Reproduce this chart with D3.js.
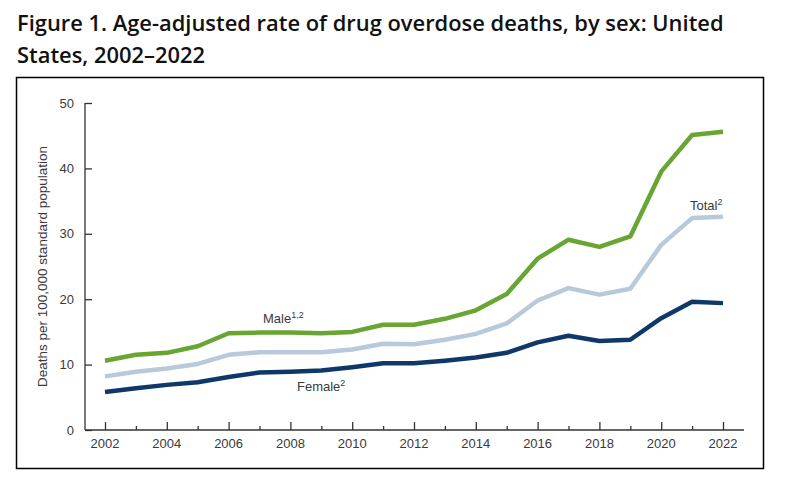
<!DOCTYPE html>
<html>
<head>
<meta charset="utf-8">
<script src="https://cdn.jsdelivr.net/npm/d3@7"></script>
<style>
body{margin:0;background:#fff;}
svg{display:block;}
</style>
</head>
<body>
<svg id="chart" width="795" height="478"></svg>
<script>
const years = [2002,2003,2004,2005,2006,2007,2008,2009,2010,2011,2012,2013,2014,2015,2016,2017,2018,2019,2020,2021,2022];
const male   = [10.6,11.5,11.8,12.8,14.8,14.9,14.9,14.8,15.0,16.1,16.1,17.0,18.3,20.8,26.2,29.1,28.0,29.6,39.5,45.1,45.6];
const total  = [8.2,8.9,9.4,10.1,11.5,11.9,11.9,11.9,12.3,13.2,13.1,13.8,14.7,16.3,19.8,21.7,20.7,21.6,28.3,32.4,32.6];
const female = [5.8,6.4,6.9,7.3,8.1,8.8,8.9,9.1,9.6,10.2,10.2,10.6,11.1,11.8,13.4,14.4,13.6,13.8,17.1,19.6,19.4];
const yTicks = [0,10,20,30,40,50];
const xTickLabels = [2002,2004,2006,2008,2010,2012,2014,2016,2018,2020,2022];
const titleLines = ["Figure 1. Age-adjusted rate of drug overdose deaths, by sex: United","States, 2002\u20132022"];
const yLabel = "Deaths per 100,000 standard population";

const svg = d3.select("#chart");

// Title
const t = svg.append("g").attr("font-family","'Open Sans', sans-serif").attr("font-weight",600).attr("fill","#111");
titleLines.forEach((s,i)=>{
  t.append("text").attr("x",17).attr("y",31+i*32).attr("font-size",20).text(s);
});
const l1 = t.select("text").node();
const w = l1.getComputedTextLength();
const fs = 20*707/w;
t.selectAll("text").attr("font-size",fs);

// Frame
svg.append("rect").attr("x",16.5).attr("y",77.5).attr("width",747).attr("height",391)
  .attr("fill","none").attr("stroke","#000").attr("stroke-width",1.5);

const x = d3.scaleLinear().domain([2002,2022]).range([105,723]);
const y = d3.scaleLinear().domain([0,50]).range([430,103]);

const axisColor = "#333";
const fontFam = "'Liberation Sans', Arial, sans-serif";
const txtColor = "#3a3a3a";

// Y axis
const yAxis = svg.append("g").attr("transform","translate(85,0)")
  .call(d3.axisRight(y).tickValues(yTicks).tickSize(7).tickFormat(d3.format("d")));
yAxis.select(".domain").attr("d", `M0,${y(50)}H0V${y(0)}`).attr("stroke",axisColor).attr("stroke-width",1.3);
yAxis.selectAll(".tick line").attr("stroke",axisColor).attr("stroke-width",1.3);
yAxis.selectAll(".tick text").attr("x",-11).attr("text-anchor","end").attr("font-size",13).attr("font-family",fontFam).attr("fill",txtColor);

// X axis
const xAxis = svg.append("g").attr("transform",`translate(0,${y(0)})`)
  .call(d3.axisTop(x).tickValues(years).tickSize(0).tickFormat(""));
xAxis.select(".domain").attr("d",`M85,0H744`).attr("stroke",axisColor).attr("stroke-width",1.3);
xAxis.selectAll(".tick line").attr("y2", d => d%2===0 ? -8 : -4).attr("stroke",axisColor).attr("stroke-width",1.3);
svg.append("g").selectAll("text").data(xTickLabels).join("text")
  .attr("x",d=>x(d)).attr("y",y(0)+18).attr("text-anchor","middle")
  .attr("font-size",13).attr("font-family",fontFam).attr("fill",txtColor).text(d=>d);

// Y label
svg.append("text").attr("transform",`translate(47,${(y(0)+y(50))/2}) rotate(-90)`)
  .attr("text-anchor","middle").attr("font-size",13.5).attr("font-family",fontFam).attr("fill",txtColor).text(yLabel);

// Lines
const line = d3.line().x((d,i)=>x(years[i])).y(d=>y(d));
const series = [
  {name:"Total", values: total, color:"#b7c9db"},
  {name:"Female", values: female, color:"#0e3868"},
  {name:"Male", values: male, color:"#69a533"}
];
svg.append("g").selectAll("path").data(series).join("path")
  .attr("d",d=>line(d.values)).attr("fill","none").attr("stroke",d=>d.color)
  .attr("stroke-width",4.5).attr("stroke-linejoin","round");

// Labels
function lab(xp, yp, main, sup){
  const tx = svg.append("text").attr("x",xp).attr("y",yp).attr("font-size",13).attr("font-family",fontFam).attr("fill",txtColor);
  tx.append("tspan").text(main);
  tx.append("tspan").attr("font-size",9).attr("dy",-5).text(sup);
}
lab(263, 323, "Male", "1,2");
lab(297, 391, "Female", "2");
lab(690, 210, "Total", "2");
</script>
</body>
</html>
